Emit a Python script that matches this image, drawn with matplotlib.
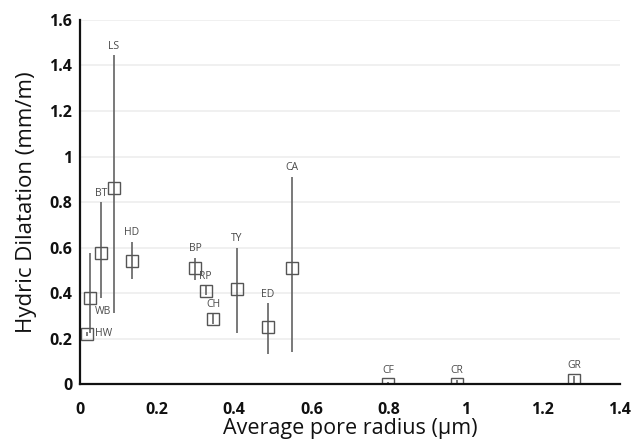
import matplotlib
matplotlib.use("Agg")
import matplotlib.pyplot as plt

# Stone samples: average pore radius (µm) vs hydric dilatation (mm/m)
samples = ["HW", "WB", "BT", "LS", "HD", "BP", "RP", "CH", "TY", "ED", "CA", "CF", "CR", "GR"]
pore_radius = [0.018, 0.027, 0.055, 0.087, 0.135, 0.298, 0.326, 0.345, 0.406, 0.487, 0.549, 0.800, 0.978, 1.281]
dilatation = [0.22, 0.38, 0.576, 0.862, 0.54, 0.51, 0.41, 0.286, 0.418, 0.25, 0.511, 0.0, 0.0, 0.02]
dil_low = [0.21, 0.224, 0.38, 0.312, 0.46, 0.457, 0.39, 0.266, 0.224, 0.132, 0.141, -0.01, -0.02, 0.005]
dil_high = [0.23, 0.576, 0.80, 1.446, 0.625, 0.555, 0.43, 0.306, 0.598, 0.356, 0.91, 0.01, 0.02, 0.035]

x_ticks = [0, 0.2, 0.4, 0.6, 0.8, 1, 1.2, 1.4]
x_tick_labels = ["0", "0.2", "0.4", "0.6", "0.8", "1", "1.2", "1.4"]
y_ticks = [0, 0.2, 0.4, 0.6, 0.8, 1, 1.2, 1.4, 1.6]
y_tick_labels = ["0", "0.2", "0.4", "0.6", "0.8", "1", "1.2", "1.4", "1.6"]

# labels placed beside the marker instead of above the bar: (dx, dy, ha) in pixels
side_labels = {
    "HW": (8, 0, "left"),
    "WB": (13, -14, "center"),
}

plt.rcParams["font.family"] = ["Open Sans", "DejaVu Sans"]

fig = plt.figure(figsize=(6.32, 4.44), dpi=100)
ax = fig.add_axes([0.1266, 0.135, 0.854, 0.82])

yerr = [[d - lo for d, lo in zip(dilatation, dil_low)],
        [hi - d for d, hi in zip(dilatation, dil_high)]]
ax.errorbar(pore_radius, dilatation, yerr=yerr, fmt="none", ecolor="#6e6e6e",
            elinewidth=1.3, capsize=0, zorder=3)
ax.plot(pore_radius, dilatation, linestyle="none", marker="s", markersize=8.5,
        markerfacecolor="none", markeredgecolor="#555555", markeredgewidth=1.0, zorder=4)

for name, x, y, hi in zip(samples, pore_radius, dilatation, dil_high):
    if name in side_labels:
        dx, dy, ha = side_labels[name]
        ax.annotate(name, (x, y), xytext=(dx, dy), textcoords="offset pixels",
                    ha=ha, va="center", fontsize=7.5, color="#4a4a4a")
    else:
        big_bar = (hi - y) > 0.03
        anchor_y = hi if big_bar else y
        off = 9 if big_bar else 14
        ax.annotate(name, (x, anchor_y), xytext=(0, off), textcoords="offset pixels",
                    ha="center", va="center", fontsize=7.5, color="#4a4a4a")

ax.set_xlim(0, 1.4)
ax.set_ylim(0, 1.6)
ax.set_xticks(x_ticks)
ax.set_xticklabels(x_tick_labels)
ax.set_yticks(y_ticks)
ax.set_yticklabels(y_tick_labels)
ax.tick_params(length=0, labelsize=11.5, colors="#111111")
ax.tick_params(axis="x", pad=13)
ax.tick_params(axis="y", pad=5.5)
for lab in ax.get_xticklabels() + ax.get_yticklabels():
    lab.set_fontweight("bold")

ax.yaxis.grid(True, color="#eeeeee", linewidth=1.2)
ax.set_axisbelow(True)
for s in ["top", "right"]:
    ax.spines[s].set_visible(False)
for s in ["left", "bottom"]:
    ax.spines[s].set_linewidth(1.6)
    ax.spines[s].set_color("#111111")
    ax.spines[s].set_zorder(5)

ax.set_xlabel("Average pore radius (µm)", fontsize=15.5, labelpad=0, color="#111111")
ax.set_ylabel("Hydric Dilatation (mm/m)", fontsize=16, labelpad=9, color="#111111")

fig.savefig("out.png", dpi=100)
